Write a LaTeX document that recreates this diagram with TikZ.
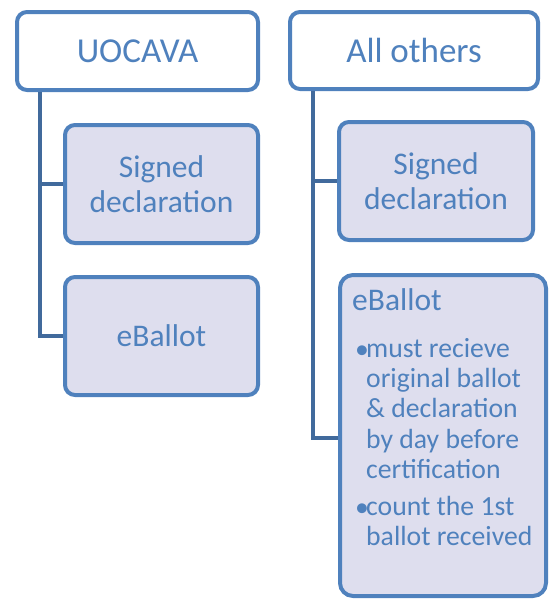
\documentclass[tikz,border=0pt]{standalone}
\usepackage{fontspec}
\setmainfont{Carlito}
\usetikzlibrary{calc}
\definecolor{accent}{RGB}{79,129,189}
\definecolor{spine}{RGB}{65,106,156}
\definecolor{tint}{RGB}{222,222,238}
\begin{document}
\begin{tikzpicture}[x=1pt,y=-1pt,
  topbox/.style={draw=accent, line width=4pt, rounded corners=10pt, fill=white,
    text=accent, font=\fontsize{35}{40}\selectfont, inner sep=0pt},
  childbox/.style={draw=accent, line width=4pt, rounded corners=10pt, fill=tint,
    text=accent, font=\fontsize{31.5}{34.6}\selectfont, align=center, inner sep=0pt},
  conn/.style={draw=spine, line width=4pt},
  bullettext/.style={text=accent, font=\fontsize{27.7}{30.4}\selectfont, inner sep=0pt, anchor=base west}]
\useasboundingbox (0,0) rectangle (549,600);

% column heads
\node[topbox, minimum width=241pt, minimum height=78pt] (uo) at (137.5,51) {UOCAVA};
\node[topbox, minimum width=248pt, minimum height=77pt] (ao) at (414,50.5) {All others};

% spines hanging from the heads
\coordinate (lspine) at ($(uo.south west)+(25,0)$);
\coordinate (rspine) at ($(ao.south west)+(25,0)$);

% left column
\node[childbox, minimum width=193pt, minimum height=118pt] (ls) at (161.5,184) {Signed\\declaration};
\node[childbox, minimum width=193pt, minimum height=118pt] (le) at (161.5,336) {eBallot};

% right column
\node[childbox, minimum width=194pt, minimum height=118pt] (rs) at (436,181) {Signed\\declaration};
\node[childbox, rounded corners=13pt, minimum width=206pt, minimum height=321pt] (re) at (443,435.5) {};

% connectors
\draw[conn] (lspine) |- (ls.west);
\draw[conn] (lspine) |- (le.west);
\draw[conn] (rspine) |- (rs.west);
\draw[conn] (rspine) |- ($(re.west)+(0,2.5)$);

% text of the right eBallot box
\node[bullettext, font=\fontsize{31.5}{34.6}\selectfont] (rehead) at (352,310) {eBallot};
\node[bullettext] (rb1) at (355,357) {\begin{tabular}[t]{@{}l@{}l@{}}
  \makebox[11pt][l]{\raisebox{-1pt}{\textbullet}} & must recieve\\
  & original ballot\\
  & \& declaration\\
  & by day before\\
  & certification
\end{tabular}};
\node[bullettext] (rb2) at (355,515) {\begin{tabular}[t]{@{}l@{}l@{}}
  \makebox[11pt][l]{\raisebox{-1pt}{\textbullet}} & count the 1st\\
  & ballot received
\end{tabular}};
\end{tikzpicture}
\end{document}
